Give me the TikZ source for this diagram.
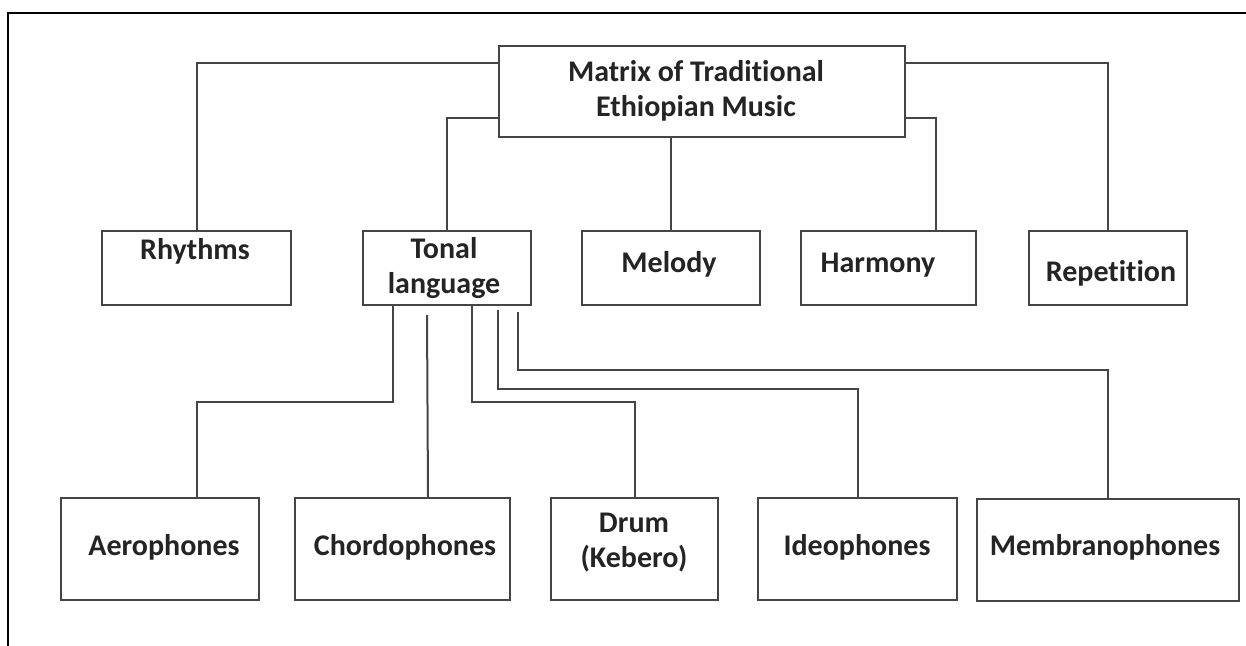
\documentclass[tikz,border=0pt]{standalone}
\usepackage{fontspec}
\setmainfont{Carlito}[Ligatures=NoCommon]
\usepackage{tikz}
\usetikzlibrary{calc,positioning}
\usepackage{xcolor}
\definecolor{linegray}{rgb}{0.27,0.27,0.27}
\definecolor{inkgray}{rgb}{0.14,0.14,0.14}

\begin{document}
\begin{tikzpicture}[x=0.5pt,y=-0.5pt]
        \tikzstyle{box}=[draw=linegray, line width=1pt, rectangle, inner sep=0pt, minimum height=37pt]
        \tikzstyle{lowbox}=[box, minimum height=51pt]
        \tikzstyle{txt}=[inner sep=0pt, anchor=base, align=center, text=inkgray, font=\bfseries\fontsize{15}{17.5}\selectfont]
        \tikzstyle{conn}=[draw=linegray, line width=1pt]
        \useasboundingbox (0,0) rectangle (1246,646);

        % Frame
        \draw[black, line width=1pt] (8,646) -- (8,13) -- (1246,13);

        % Top box
        \node (top)[box, minimum width=203pt, minimum height=45.5pt] at (702,91.5) {};
        \node (toptxt)[txt] at (696,117) {Matrix of Traditional\\Ethiopian Music};

        % Middle row
        \node (rhy)[box, minimum width=94.5pt] at (196.5,268) {};
        \node (ton)[box, minimum width=84pt] at (447,268) {};
        \node (mel)[box, minimum width=89pt] at (671,268) {};
        \node (har)[box, minimum width=87.5pt] at (888.5,268) {};
        \node (rep)[box, minimum width=79pt] at (1108,268) {};

        \node (rhytxt)[txt] at (195,260) {Rhythms};
        \node (tontxt)[txt] at (444,294) {Tonal\\language};
        \node (meltxt)[txt] at (669,273) {Melody};
        \node (hartxt)[txt] at (878,273) {Harmony};
        \node (reptxt)[txt] at (1111,282) {Repetition};

        % Bottom row
        \node (aer)[lowbox, minimum width=99pt] at (160,549) {};
        \node (cho)[lowbox, minimum width=107.5pt] at (402.5,549) {};
        \node (drm)[lowbox, minimum width=83.5pt] at (634.5,549) {};
        \node (ide)[lowbox, minimum width=99.5pt] at (857.5,549) {};
        \node (mem)[lowbox, minimum width=131pt] at (1108,550) {};

        \node (aertxt)[txt] at (164,555) {Aerophones};
        \node (chotxt)[txt] at (405,555) {Chordophones};
        \node (drmtxt)[txt] at (634,567) {Drum\\(Kebero)};
        \node (idetxt)[txt] at (857,555) {Ideophones};
        \node (memtxt)[txt] at (1105,555) {Membranophones};

        % Connectors from the top box
        \draw[conn] ($(top.north west)+(0,18)$) -| (rhy.north);
        \draw[conn] ($(top.north west)+(0,73)$) -| (ton.north);
        \draw[conn] (top.south -| mel.north) -- (mel.north);
        \draw[conn] ($(top.north east)+(0,73)$) -| ($(har.north west)+(136,0)$);
        \draw[conn] ($(top.north east)+(0,18)$) -| (rep.north);

        % Connectors from the tonal language box
        \draw[conn] ($(ton.south west)+(31,0)$) -- ++(0,96) -| ($(aer.north)+(37,0)$);
        \draw[conn] ($(ton.south west)+(65,9)$) -- ($(cho.north)+(25.5,0)$);
        \draw[conn] ($(ton.south west)+(110,0)$) -- ++(0,96) -| (drm.north);
        \draw[conn] ($(ton.south west)+(136,4)$) -- ++(0,79) -| (ide.north);
        \draw[conn] ($(ton.south west)+(156,6)$) -- ++(0,58) -| (mem.north);
\end{tikzpicture}
\end{document}
